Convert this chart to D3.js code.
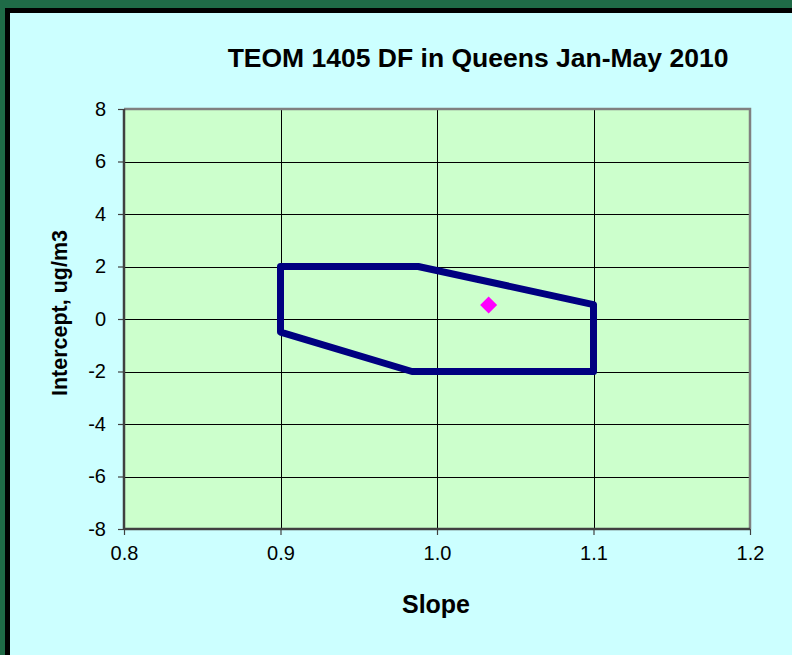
<!DOCTYPE html>
<html>
<head>
<meta charset="utf-8">
<script src="https://cdn.jsdelivr.net/npm/d3@7"></script>
<style>
  html, body { margin: 0; padding: 0; background: #1f6b47; }
  svg { display: block; }
  text { font-family: Arial, "Liberation Sans", sans-serif; fill: #000; }
</style>
</head>
<body>
<svg id="chart" width="792" height="655"></svg>
<script>
// ---- data ----
const title = "TEOM 1405 DF in Queens Jan-May 2010";
const xLabel = "Slope";
const yLabel = "Intercept, ug/m3";
const xTicks = [0.8, 0.9, 1.0, 1.1, 1.2];
const yTicks = [-8, -6, -4, -2, 0, 2, 4, 6, 8];
const boundarySlope = [0.9, 0.988, 1.1, 1.1, 0.984, 0.9, 0.9];
const boundaryIntercept = [2, 2, 0.55, -2, -2, -0.5, 2];
const pointSlope = [1.033];
const pointIntercept = [0.53];

// ---- layout ----
const svg = d3.select("#chart");
const W = 792, H = 655;
const plot = { left: 124, top: 109, right: 750, bottom: 529 };

svg.append("rect").attr("x", 0).attr("y", 0).attr("width", W).attr("height", H).attr("fill", "#1f6b47");
svg.append("rect").attr("x", 5).attr("y", 8).attr("width", W).attr("height", H).attr("fill", "#000");
svg.append("rect").attr("x", 10).attr("y", 13).attr("width", W).attr("height", H).attr("fill", "#ccffff");

const x = d3.scaleLinear().domain([0.8, 1.2]).range([plot.left, plot.right]);
const y = d3.scaleLinear().domain([-8, 8]).range([plot.bottom, plot.top]);

// plot area
svg.append("rect")
  .attr("x", plot.left).attr("y", plot.top)
  .attr("width", plot.right - plot.left).attr("height", plot.bottom - plot.top)
  .attr("fill", "#ccffcc");

// gridlines
const g = svg.append("g");
g.selectAll("line.hg").data(yTicks.filter(d => d > -8 && d < 8)).join("line")
  .attr("x1", plot.left).attr("x2", plot.right)
  .attr("y1", d => Math.round(y(d)) + 0.5).attr("y2", d => Math.round(y(d)) + 0.5)
  .attr("stroke", "#000").attr("stroke-width", 1);
g.selectAll("line.vg").data(xTicks.filter(d => d > 0.8 && d < 1.2)).join("line")
  .attr("y1", plot.top).attr("y2", plot.bottom)
  .attr("x1", d => Math.round(x(d)) + 0.5).attr("x2", d => Math.round(x(d)) + 0.5)
  .attr("stroke", "#000").attr("stroke-width", 1);

// top & right border (gray)
svg.append("path")
  .attr("d", `M${plot.left},${plot.top} H${plot.right} V${plot.bottom}`)
  .attr("fill", "none").attr("stroke", "#808080").attr("stroke-width", 2.5);

// axes
const xAxis = d3.axisBottom(x).tickValues(xTicks).tickFormat(d3.format(".1f")).tickSize(6).tickPadding(11);
const yAxis = d3.axisLeft(y).tickValues(yTicks).tickFormat(d => d).tickSize(6).tickPadding(12);

const gx = svg.append("g").attr("transform", `translate(0,${plot.bottom})`).call(xAxis);
const gy = svg.append("g").attr("transform", `translate(${plot.left},0)`).call(yAxis);
[gx, gy].forEach(a => {
  a.select(".domain").attr("stroke", "#404040").attr("stroke-width", 2.5);
  a.selectAll(".tick line").attr("stroke", "#404040").attr("stroke-width", 1.2);
  a.selectAll(".tick text").attr("font-size", 20).attr("font-family", "Arial, 'Liberation Sans', sans-serif").attr("fill", "#000");
});
gy.select(".domain").attr("d", `M0,${plot.top}V${plot.bottom}`);
gx.select(".domain").attr("d", `M${plot.left},0H${plot.right}`);

// boundary polygon
const lineGen = d3.line().x(d => x(d[0])).y(d => y(d[1]));
const pts = boundarySlope.map((s, i) => [s, boundaryIntercept[i]]);
svg.append("path")
  .attr("d", lineGen(pts) + "Z")
  .attr("fill", "none").attr("stroke", "#000080").attr("stroke-width", 7)
  .attr("stroke-linejoin", "round").attr("stroke-linecap", "round");

// point (diamond)
svg.selectAll("path.pt").data(pointSlope.map((s, i) => [s, pointIntercept[i]])).join("path")
  .attr("d", d3.symbol().type(d3.symbolSquare).size(145)())
  .attr("transform", d => `translate(${x(d[0])},${y(d[1])}) rotate(45)`)
  .attr("fill", "#ff00ff");

// titles
svg.append("text").attr("x", 478).attr("y", 67).attr("text-anchor", "middle")
  .attr("font-size", 26.5).attr("font-weight", "bold").text(title);
svg.append("text").attr("x", 436).attr("y", 613).attr("text-anchor", "middle")
  .attr("font-size", 25).attr("font-weight", "bold").text(xLabel);
svg.append("text").attr("transform", "translate(67,313) rotate(-90)").attr("text-anchor", "middle")
  .attr("font-size", 21.5).attr("font-weight", "bold").text(yLabel);
</script>
</body>
</html>
